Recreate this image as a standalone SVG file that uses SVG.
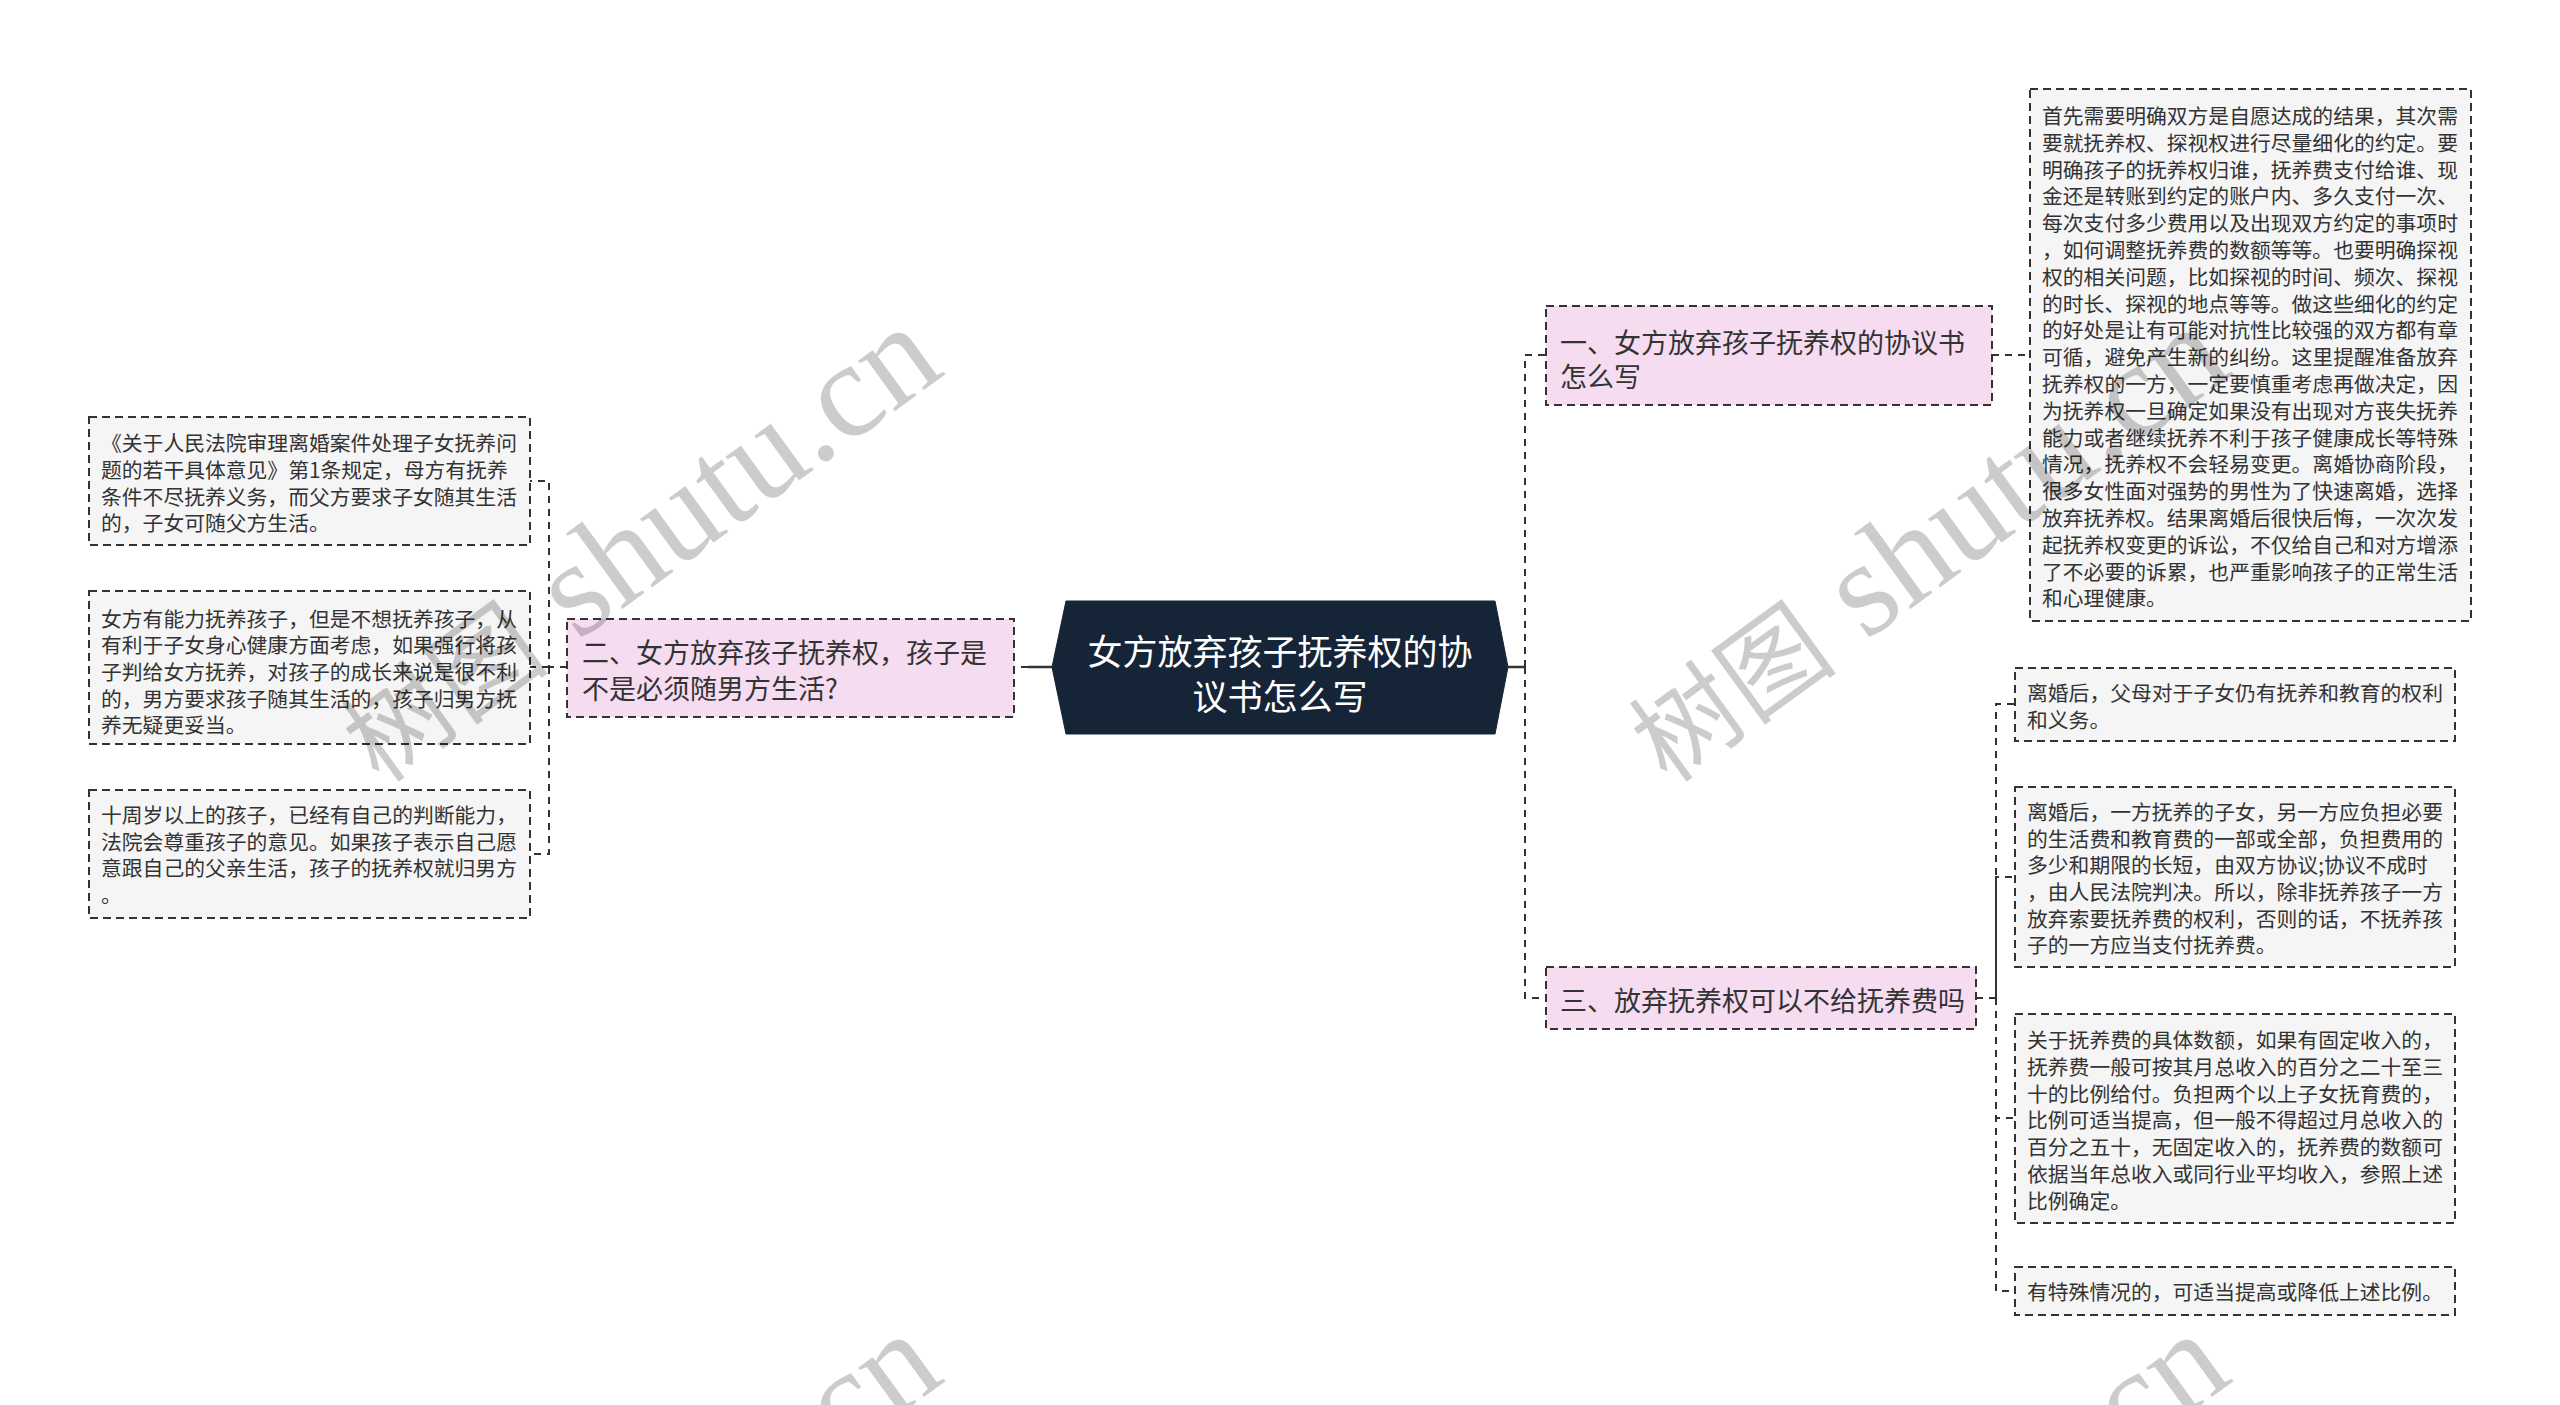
<svg xmlns="http://www.w3.org/2000/svg" width="2560" height="1405" viewBox="0 0 2560 1405">
<style>
.bg{fill:#ffffff}
.root{fill:#162437;stroke:#162437;stroke-width:1}
.rt{font-family:"Noto Sans CJK SC","Noto Sans",sans-serif;font-size:35px;fill:#ffffff;text-anchor:middle}
.br{fill:#f6dcf0;stroke:#333333;stroke-width:2;stroke-dasharray:8,5}
.bt{font-family:"Noto Sans CJK SC","Noto Sans",sans-serif;font-size:27px;fill:#333333}
.lf{fill:#f5f5f5;stroke:#333333;stroke-width:2;stroke-dasharray:8,5}
.lt{font-family:"Noto Sans CJK SC","Noto Sans",sans-serif;font-size:20.8px;fill:#333333}
.cn{fill:none;stroke:#333333;stroke-width:2;stroke-dasharray:7,6}
.cs{fill:none;stroke:#333333;stroke-width:2.5}
.wm{font-family:"Liberation Serif","Noto Sans CJK SC",serif;font-size:136px;fill:#000000;fill-opacity:0.2}
.wmc{font-family:"Noto Sans CJK SC",sans-serif;font-size:105px}
</style>
<rect class="bg" x="0" y="0" width="2560" height="1405"/>
<g id="connectors">
<path class="cs" d="M1508,667 H1525"/>
<path class="cs" d="M1052,667 H1028"/>
<path class="cn" d="M1028,667 H1014"/>
<path class="cn" d="M1525,667 V355 H1546"/>
<path class="cn" d="M1525,667 V998 H1546"/>
<path class="cn" d="M1992,355 H2030"/>
<path class="cn" d="M567,667 H549 V481 H530"/>
<path class="cn" d="M549,667 H530"/>
<path class="cn" d="M549,667 V854 H530"/>
<path class="cn" d="M1976,998 H1996 V704 H2015"/>
<path class="cn" d="M1996,998 V877 H2015"/>
<path class="cn" d="M1996,998 V1118 H2015"/>
<path class="cn" d="M1996,998 V1291 H2015"/>
</g>
<g id="root">
<polygon class="root" points="1066,601 1495,601 1508,667 1495,734 1066,734 1052,667"/>
<text class="rt" x="1280" y="665">女方放弃孩子抚养权的协</text>
<text class="rt" x="1280" y="710">议书怎么写</text>
</g>
<g id="branch1">
<rect class="br" x="1546" y="306" width="446" height="99"/>
<text class="bt" x="1560" y="353">一、女方放弃孩子抚养权的协议书</text>
<text class="bt" x="1560" y="387">怎么写</text>
</g>
<g id="branch1-leaf">
<rect class="lf" x="2030" y="89" width="441" height="532"/>
<text class="lt">
<tspan x="2042" y="124">首先需要明确双方是自愿达成的结果，其次需</tspan>
<tspan x="2042" y="151">要就抚养权、探视权进行尽量细化的约定。要</tspan>
<tspan x="2042" y="178">明确孩子的抚养权归谁，抚养费支付给谁、现</tspan>
<tspan x="2042" y="204">金还是转账到约定的账户内、多久支付一次、</tspan>
<tspan x="2042" y="231">每次支付多少费用以及出现双方约定的事项时</tspan>
<tspan x="2042" y="258">，如何调整抚养费的数额等等。也要明确探视</tspan>
<tspan x="2042" y="285">权的相关问题，比如探视的时间、频次、探视</tspan>
<tspan x="2042" y="312">的时长、探视的地点等等。做这些细化的约定</tspan>
<tspan x="2042" y="338">的好处是让有可能对抗性比较强的双方都有章</tspan>
<tspan x="2042" y="365">可循，避免产生新的纠纷。这里提醒准备放弃</tspan>
<tspan x="2042" y="392">抚养权的一方，一定要慎重考虑再做决定，因</tspan>
<tspan x="2042" y="419">为抚养权一旦确定如果没有出现对方丧失抚养</tspan>
<tspan x="2042" y="446">能力或者继续抚养不利于孩子健康成长等特殊</tspan>
<tspan x="2042" y="472">情况，抚养权不会轻易变更。离婚协商阶段，</tspan>
<tspan x="2042" y="499">很多女性面对强势的男性为了快速离婚，选择</tspan>
<tspan x="2042" y="526">放弃抚养权。结果离婚后很快后悔，一次次发</tspan>
<tspan x="2042" y="553">起抚养权变更的诉讼，不仅给自己和对方增添</tspan>
<tspan x="2042" y="580">了不必要的诉累，也严重影响孩子的正常生活</tspan>
<tspan x="2042" y="606">和心理健康。</tspan>
</text>
</g>
<g id="branch2">
<rect class="br" x="567" y="619" width="447" height="98"/>
<text class="bt" x="582" y="663">二、女方放弃孩子抚养权，孩子是</text>
<text class="bt" x="582" y="699">不是必须随男方生活?</text>
</g>
<g id="branch2-leaf1">
<rect class="lf" x="89" y="417" width="441" height="128"/>
<text class="lt">
<tspan x="101" y="451">《关于人民法院审理离婚案件处理子女抚养问</tspan>
<tspan x="101" y="478">题的若干具体意见》第1条规定，母方有抚养</tspan>
<tspan x="101" y="505">条件不尽抚养义务，而父方要求子女随其生活</tspan>
<tspan x="101" y="531">的，子女可随父方生活。</tspan>
</text>
</g>
<g id="branch2-leaf2">
<rect class="lf" x="89" y="591" width="441" height="153"/>
<text class="lt">
<tspan x="101" y="627">女方有能力抚养孩子，但是不想抚养孩子，从</tspan>
<tspan x="101" y="653">有利于子女身心健康方面考虑，如果强行将孩</tspan>
<tspan x="101" y="680">子判给女方抚养，对孩子的成长来说是很不利</tspan>
<tspan x="101" y="707">的，男方要求孩子随其生活的，孩子归男方抚</tspan>
<tspan x="101" y="733">养无疑更妥当。</tspan>
</text>
</g>
<g id="branch2-leaf3">
<rect class="lf" x="89" y="790" width="441" height="128"/>
<text class="lt">
<tspan x="101" y="823">十周岁以上的孩子，已经有自己的判断能力，</tspan>
<tspan x="101" y="850">法院会尊重孩子的意见。如果孩子表示自己愿</tspan>
<tspan x="101" y="876">意跟自己的父亲生活，孩子的抚养权就归男方</tspan>
<tspan x="101" y="903">。</tspan>
</text>
</g>
<g id="branch3">
<rect class="br" x="1546" y="967" width="430" height="62"/>
<text class="bt" x="1560" y="1011">三、放弃抚养权可以不给抚养费吗</text>
</g>
<g id="branch3-leaf1">
<rect class="lf" x="2015" y="668" width="440" height="73"/>
<text class="lt">
<tspan x="2027" y="701">离婚后，父母对于子女仍有抚养和教育的权利</tspan>
<tspan x="2027" y="728">和义务。</tspan>
</text>
</g>
<g id="branch3-leaf2">
<rect class="lf" x="2015" y="787" width="440" height="180"/>
<text class="lt">
<tspan x="2027" y="820">离婚后，一方抚养的子女，另一方应负担必要</tspan>
<tspan x="2027" y="847">的生活费和教育费的一部或全部，负担费用的</tspan>
<tspan x="2027" y="873">多少和期限的长短，由双方协议;协议不成时</tspan>
<tspan x="2027" y="900">，由人民法院判决。所以，除非抚养孩子一方</tspan>
<tspan x="2027" y="927">放弃索要抚养费的权利，否则的话，不抚养孩</tspan>
<tspan x="2027" y="953">子的一方应当支付抚养费。</tspan>
</text>
</g>
<g id="branch3-leaf3">
<rect class="lf" x="2015" y="1014" width="440" height="209"/>
<text class="lt">
<tspan x="2027" y="1048">关于抚养费的具体数额，如果有固定收入的，</tspan>
<tspan x="2027" y="1075">抚养费一般可按其月总收入的百分之二十至三</tspan>
<tspan x="2027" y="1102">十的比例给付。负担两个以上子女抚育费的，</tspan>
<tspan x="2027" y="1128">比例可适当提高，但一般不得超过月总收入的</tspan>
<tspan x="2027" y="1155">百分之五十，无固定收入的，抚养费的数额可</tspan>
<tspan x="2027" y="1182">依据当年总收入或同行业平均收入，参照上述</tspan>
<tspan x="2027" y="1209">比例确定。</tspan>
</text>
</g>
<g id="branch3-leaf4">
<rect class="lf" x="2015" y="1267" width="440" height="48"/>
<text class="lt" x="2027" y="1300">有特殊情况的，可适当提高或降低上述比例。</text>
</g>
<g id="watermarks">
<text class="wm" transform="translate(380,785) rotate(-36)"><tspan class="wmc">树图</tspan> shutu.cn</text>
<text class="wm" transform="translate(1668,785) rotate(-36)"><tspan class="wmc">树图</tspan> shutu.cn</text>
<text class="wm" transform="translate(380,1792) rotate(-36)"><tspan class="wmc">树图</tspan> shutu.cn</text>
<text class="wm" transform="translate(1668,1792) rotate(-36)"><tspan class="wmc">树图</tspan> shutu.cn</text>
</g>
</svg>
